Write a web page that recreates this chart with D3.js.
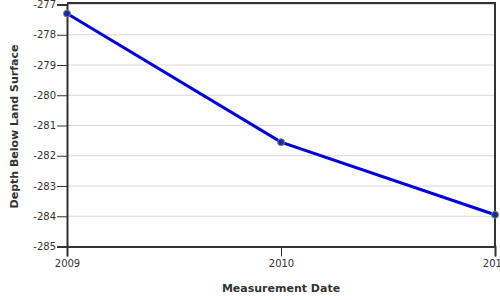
<!DOCTYPE html>
<html>
<head>
<meta charset="utf-8">
<script src="https://cdn.jsdelivr.net/npm/d3@7"></script>
<style>
body { margin: 0; background: #fff; }
text { font-family: "DejaVu Sans", Verdana, sans-serif; fill: #333; }
</style>
</head>
<body>
<div id="chart"></div>
<script>
// measurement data
var years = [2009, 2010, 2011];
var depths = [-277.3, -281.55, -283.95];
var yTicks = [-285, -284, -283, -282, -281, -280, -279, -278, -277];

var margin = {top: 4.5, right: 5, bottom: 53.5, left: 67},
    width = 500 - margin.left - margin.right,
    height = 300 - margin.top - margin.bottom;

var x = d3.scaleLinear().domain([2009, 2011]).range([0, width]);
var y = d3.scaleLinear().domain([-285, -277]).range([height, 0]);

var svg = d3.select("#chart").append("svg")
        .attr("width", 500)
        .attr("height", 300)
    .append("g")
        .attr("transform", `translate(${margin.left}, ${margin.top})`);

// gridlines
svg.selectAll("line.grid")
    .data(yTicks).enter()
    .append("line")
    .attr("x1", 0).attr("x2", width)
    .attr("y1", d => y(d)).attr("y2", d => y(d))
    .attr("stroke", "#d8d8d8")
    .attr("stroke-width", 1);

// frame top and right
svg.append("path")
    .attr("d", `M0,-1.5H${width}V${height}`)
    .attr("fill", "none")
    .attr("stroke", "#333")
    .attr("stroke-width", 2);

// y axis (plain hyphen for minus, like the original)
var yAxis = svg.append("g")
    .call(d3.axisLeft(y).tickValues(yTicks).tickSize(10).tickPadding(1).tickFormat(d => String(d)));
yAxis.select(".domain").attr("stroke", "#333").attr("stroke-width", 2);
yAxis.selectAll(".tick line").attr("stroke", "#333");
yAxis.selectAll("text").style("font-size", "10px").attr("fill", "#333");

// x axis
var xAxis = svg.append("g")
    .attr("transform", `translate(0, ${height})`)
    .call(d3.axisBottom(x).tickValues(years).tickSize(10).tickPadding(3).tickFormat(d3.format("d")));
xAxis.select(".domain").attr("stroke", "#333").attr("stroke-width", 2);
xAxis.selectAll(".tick line").attr("stroke", "#333");
xAxis.selectAll("text").style("font-size", "10px").attr("fill", "#333");

// line
var line = d3.line()
    .x((d, i) => x(years[i]))
    .y(d => y(d));

svg.append("path")
    .datum(depths)
    .attr("d", line)
    .attr("fill", "none")
    .attr("stroke", "#0000dd")
    .attr("stroke-width", 3);

// points
svg.selectAll("circle.pt")
    .data(depths).enter()
    .append("circle")
    .attr("cx", (d, i) => x(years[i]))
    .attr("cy", d => y(d))
    .attr("r", 3.5)
    .attr("fill", "#1a2aa0")
    .attr("stroke", "#7a8a80")
    .attr("stroke-width", 1);

// axis titles
svg.append("text")
    .attr("x", width / 2)
    .attr("y", height + 45)
    .style("text-anchor", "middle")
    .style("font-size", "11px")
    .style("font-weight", "bold")
    .text("Measurement Date");

svg.append("text")
    .attr("transform", "rotate(-90)")
    .attr("x", -height / 2 - 1)
    .attr("y", -49)
    .style("text-anchor", "middle")
    .style("font-size", "11px")
    .style("font-weight", "bold")
    .text("Depth Below Land Surface");
</script>
</body>
</html>
